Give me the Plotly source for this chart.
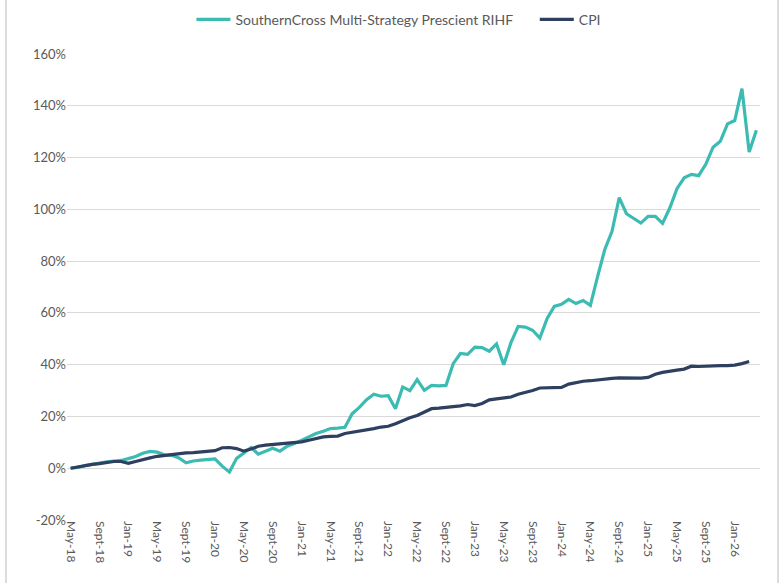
import plotly.graph_objects as go

months = [
    "May-18", "Jun-18", "Jul-18", "Aug-18", "Sept-18", "Oct-18", "Nov-18", "Dec-18",
    "Jan-19", "Feb-19", "Mar-19", "Apr-19", "May-19", "Jun-19", "Jul-19", "Aug-19",
    "Sept-19", "Oct-19", "Nov-19", "Dec-19", "Jan-20", "Feb-20", "Mar-20", "Apr-20",
    "May-20", "Jun-20", "Jul-20", "Aug-20", "Sept-20", "Oct-20", "Nov-20", "Dec-20",
    "Jan-21", "Feb-21", "Mar-21", "Apr-21", "May-21", "Jun-21", "Jul-21", "Aug-21",
    "Sept-21", "Oct-21", "Nov-21", "Dec-21", "Jan-22", "Feb-22", "Mar-22", "Apr-22",
    "May-22", "Jun-22", "Jul-22", "Aug-22", "Sept-22", "Oct-22", "Nov-22", "Dec-22",
    "Jan-23", "Feb-23", "Mar-23", "Apr-23", "May-23", "Jun-23", "Jul-23", "Aug-23",
    "Sept-23", "Oct-23", "Nov-23", "Dec-23", "Jan-24", "Feb-24", "Mar-24", "Apr-24",
    "May-24", "Jun-24", "Jul-24", "Aug-24", "Sept-24", "Oct-24", "Nov-24", "Dec-24",
    "Jan-25", "Feb-25", "Mar-25", "Apr-25", "May-25", "Jun-25", "Jul-25", "Aug-25",
    "Sept-25", "Oct-25", "Nov-25", "Dec-25", "Jan-26", "Feb-26", "Mar-26", "Apr-26",
]

fund = [
    0.0, 0.3, 1.0, 1.6, 2.0, 2.5, 2.8, 3.0,
    3.7, 4.5, 5.8, 6.5, 6.2, 5.2, 5.0, 4.0,
    2.1, 2.8, 3.1, 3.4, 3.6, 0.8, -1.5, 3.8,
    6.0, 8.0, 5.4, 6.5, 7.7, 6.6, 8.5, 9.5,
    10.8, 12.0, 13.4, 14.3, 15.3, 15.5, 15.8, 21.0,
    23.5, 26.5, 28.6, 27.8, 28.0, 23.0, 31.4, 30.0,
    34.2, 30.1, 32.0, 31.8, 32.0, 40.4, 44.3, 44.0,
    46.8, 46.6, 45.2, 48.0, 40.0, 48.5, 54.8, 54.5,
    53.3, 50.3, 57.8, 62.5, 63.3, 65.2, 63.6, 64.8,
    62.9, 74.0, 84.5, 91.5, 104.5, 98.3, 96.4, 94.7,
    97.3, 97.3, 94.6, 100.5, 108.0, 112.2, 113.5, 113.0,
    117.5, 124.0, 126.3, 133.0, 134.3, 146.6, 122.1, 130.5,
]

cpi = [
    0.0, 0.6, 1.2, 1.5, 1.8, 2.2, 2.6, 2.6,
    1.9, 2.6, 3.4, 4.0, 4.6, 5.0, 5.4, 5.7,
    5.9, 6.0, 6.2, 6.4, 6.8, 7.9, 8.0, 7.6,
    6.6, 7.4, 8.5, 8.9, 9.1, 9.3, 9.5, 9.8,
    10.2, 10.8, 11.4, 12.1, 12.3, 12.4, 13.4, 13.8,
    14.2, 14.8, 15.3, 15.9, 16.2, 17.2, 18.5, 19.5,
    20.4, 21.6, 23.0, 23.2, 23.4, 23.8, 24.1, 24.6,
    24.2, 25.0, 26.4, 26.8, 27.1, 27.5, 28.6, 29.2,
    30.0, 31.0, 31.1, 31.1, 31.2, 32.5, 33.1, 33.6,
    33.8, 34.2, 34.6, 34.7, 34.9, 34.8, 34.7, 34.8,
    35.1, 36.3, 37.0, 37.3, 37.9, 38.3, 39.4, 39.3,
    39.5, 39.6, 39.6, 39.6, 39.8, 40.4, 41.2, None,
]

tick_labels = months[::4]
y_ticks = [-20, 0, 20, 40, 60, 80, 100, 120, 140, 160]
y_tick_text = ["-20%", "0%", "20%", "40%", "60%", "80%", "100%", "120%", "140%", "160%"]

FONT = "Lato, 'Open Sans', sans-serif"
GREY = "#595959"

fig = go.Figure()
fig.add_trace(go.Scatter(
    x=months, y=fund, mode="lines",
    name="SouthernCross Multi-Strategy Prescient RIHF",
    line=dict(color="#3CBBB3", width=3.2), legend="legend",
))
fig.add_trace(go.Scatter(
    x=months, y=cpi, mode="lines", name="CPI",
    line=dict(color="#2E3F60", width=3.2), legend="legend2",
))

legend_common = dict(
    orientation="h", xref="container", xanchor="left",
    yref="container", y=0.966, yanchor="middle",
    font=dict(size=14, color=GREY), itemwidth=34,
    bgcolor="rgba(0,0,0,0)",
)

fig.update_layout(
    width=783, height=583,
    margin=dict(l=67, r=23, t=54, b=63, autoexpand=False),
    paper_bgcolor="white", plot_bgcolor="white",
    font=dict(family=FONT, size=12, color=GREY),
    showlegend=True,
    legend=dict(x=0.2445, **legend_common),
    legend2=dict(x=0.683, **legend_common),
    xaxis=dict(
        type="category", categoryorder="array", categoryarray=months,
        range=[-0.5, len(months) - 0.5], automargin=False,
        tickmode="array", tickvals=tick_labels, ticktext=tick_labels,
        tickangle=90, showgrid=False, zeroline=False, showline=False,
        ticks="", tickfont=dict(size=12, color=GREY),
    ),
    yaxis=dict(
        range=[-20, 160], tickmode="array", tickvals=y_ticks, ticktext=y_tick_text,
        showgrid=True, gridcolor="#D9D9D9", gridwidth=1, automargin=False,
        zeroline=False, showline=False, ticks="",
        tickfont=dict(size=13, color=GREY),
    ),
    shapes=[dict(
        type="rect", xref="paper", yref="paper",
        x0=-0.088, x1=1.026, y0=-0.16, y1=1.13,
        line=dict(color="#D0D0D0", width=1.5),
    )],
)

fig.write_html(
    "out.html",
    config={"displayModeBar": False},
    post_script="document.body.style.margin='0';document.body.style.overflow='hidden';",
)
